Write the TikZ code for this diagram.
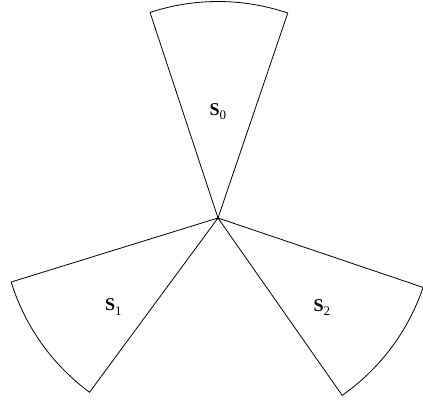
\documentclass[tikz,border=0pt]{standalone}
\usepackage{fontspec}
\setmainfont{Liberation Serif}
\newcommand{\lbl}[1]{\fontsize{18}{18}\selectfont\textbf{S}\raisebox{-4.3pt}{\fontsize{13}{13}\selectfont #1}}
\begin{document}
\begin{tikzpicture}[x=1pt,y=1pt,
  sector/.style={draw=black,line width=0.8pt,line join=miter},
  lab/.style={anchor=base west,inner sep=0pt}]
\useasboundingbox (0,0) rectangle (423,400);
\coordinate (c) at (218,182);
\draw[sector] (c) -- ++(71.2:216.5pt) arc[start angle=71.2,end angle=108.3,radius=216.5pt] -- cycle;
\draw[sector] (c) -- ++(197.2:216.5pt) arc[start angle=197.2,end angle=233.6,radius=216.5pt] -- cycle;
\draw[sector] (c) -- ++(305:216.5pt) arc[start angle=305,end angle=341.3,radius=216.5pt] -- cycle;
\node[lab] (s0) at (209.3,285) {\lbl{0}};
\node[lab] (s1) at (105,89.3) {\lbl{1}};
\node[lab] (s2) at (313.3,89) {\lbl{2}};
\end{tikzpicture}
\end{document}
